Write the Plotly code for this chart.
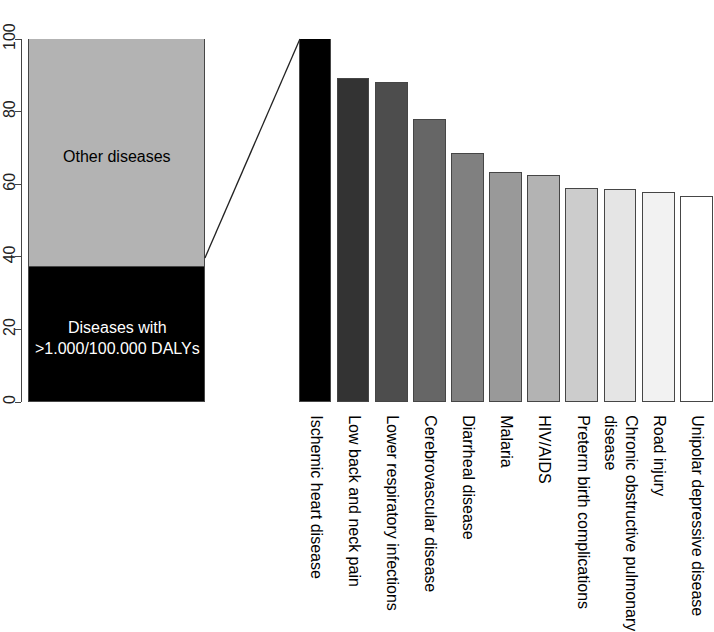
import plotly.graph_objects as go

# ---- data ----
summary_labels = ["Diseases with<br>>1.000/100.000 DALYs", "Other diseases"]
summary_values = [37.3, 62.7]
summary_colors = ["#000000", "#b3b3b3"]
summary_text_colors = ["white", "black"]

diseases = [
    "Ischemic heart disease",
    "Low back and neck pain",
    "Lower respiratory infections",
    "Cerebrovascular disease",
    "Diarrheal disease",
    "Malaria",
    "HIV/AIDS",
    "Preterm birth complications",
    "Chronic obstructive pulmonary<br>disease",
    "Road injury",
    "Unipolar depressive disease",
]
disease_values = [100, 89.1, 87.8, 77.8, 68.3, 63.1, 62.3, 58.6, 58.5, 57.5, 56.6]
disease_colors = ["#000000", "#333333", "#4d4d4d", "#666666", "#808080", "#999999",
                  "#b3b3b3", "#cccccc", "#e5e5e5", "#f2f2f2", "#ffffff"]
y_ticks = [0, 20, 40, 60, 80, 100]
connector_start_value = 39.7

# ---- geometry (R barplot style: width 1, space 0.2) ----
W, H = 714, 632
ml, mr, mt, mb = 22, 0, 39, 230
pw = W - ml - mr
left_center = [0.7]
left_range = [0.16, 1.24]
left_dom = [0, 190 / pw]
right_centers = [0.7 + 1.2 * i for i in range(len(diseases))]
right_range = [-0.32, 13.23]
right_dom = [(283.4 - ml) / pw, 1.0]

FONT = "Liberation Sans, Arial, Helvetica, sans-serif"
EDGE = "rgb(70,70,70)"

fig = go.Figure()

for lab, val, col in zip(summary_labels, summary_values, summary_colors):
    fig.add_trace(go.Bar(
        x=left_center, y=[val], width=1, marker=dict(color=col, line=dict(color=EDGE, width=1)),
        xaxis="x", yaxis="y", showlegend=False, hoverinfo="skip"))

fig.add_trace(go.Bar(
    x=right_centers, y=disease_values, width=1,
    marker=dict(color=disease_colors, line=dict(color=EDGE, width=1.2)),
    xaxis="x2", yaxis="y2", showlegend=False))

# annotations inside the summary bar
base = 0
for lab, val, tcol in zip(summary_labels, summary_values, summary_text_colors):
    fig.add_annotation(x=left_center[0], y=base + val / 2, xref="x", yref="y",
                       text=lab, showarrow=False, yshift=-4,
                       font=dict(family=FONT, size=16, color=tcol))
    base += val

# connector line from summary bar to first disease bar
def xpaper(v, rng, dom):
    return dom[0] + (v - rng[0]) / (rng[1] - rng[0]) * (dom[1] - dom[0])

x0 = xpaper(left_center[0] + 0.5, left_range, left_dom)
x1 = xpaper(right_centers[0] - 0.5, right_range, right_dom)
fig.add_shape(type="line", xref="paper", yref="paper",
              x0=x0, y0=connector_start_value / 100, x1=x1, y1=disease_values[0] / 100,
              line=dict(color="#222222", width=1.3))

fig.update_layout(
    width=W, height=H, margin=dict(l=ml, r=mr, t=mt, b=mb),
    plot_bgcolor="white", paper_bgcolor="white", barmode="stack", bargap=0,
    font=dict(family=FONT, size=16, color="black"),
    xaxis=dict(domain=left_dom, range=left_range, showticklabels=False, showline=False,
               showgrid=False, zeroline=False, ticks=""),
    yaxis=dict(range=[0, 100], tickvals=y_ticks, ticks="outside", ticklen=6, tickwidth=1,
               tickcolor="#444444", showline=True, linecolor="#444444", linewidth=1,
               tickangle=-90, showgrid=False, zeroline=False, automargin=False,
               ticklabelstandoff=-6,
               tickfont=dict(family=FONT, size=16, color="#222222")),
    xaxis2=dict(domain=right_dom, range=right_range, anchor="y2", tickvals=right_centers,
                ticktext=diseases, tickangle=90, ticks="outside", ticklen=9,
                tickcolor="rgba(0,0,0,0)", showline=False, showgrid=False, zeroline=False,
                automargin=False, tickfont=dict(family=FONT, size=16, color="black")),
    yaxis2=dict(range=[0, 100], anchor="x2", visible=False, showgrid=False),
)

fig.write_html("out.html", config={"displayModeBar": False},
               post_script="document.body.style.margin='0';document.body.style.overflow='hidden';")
